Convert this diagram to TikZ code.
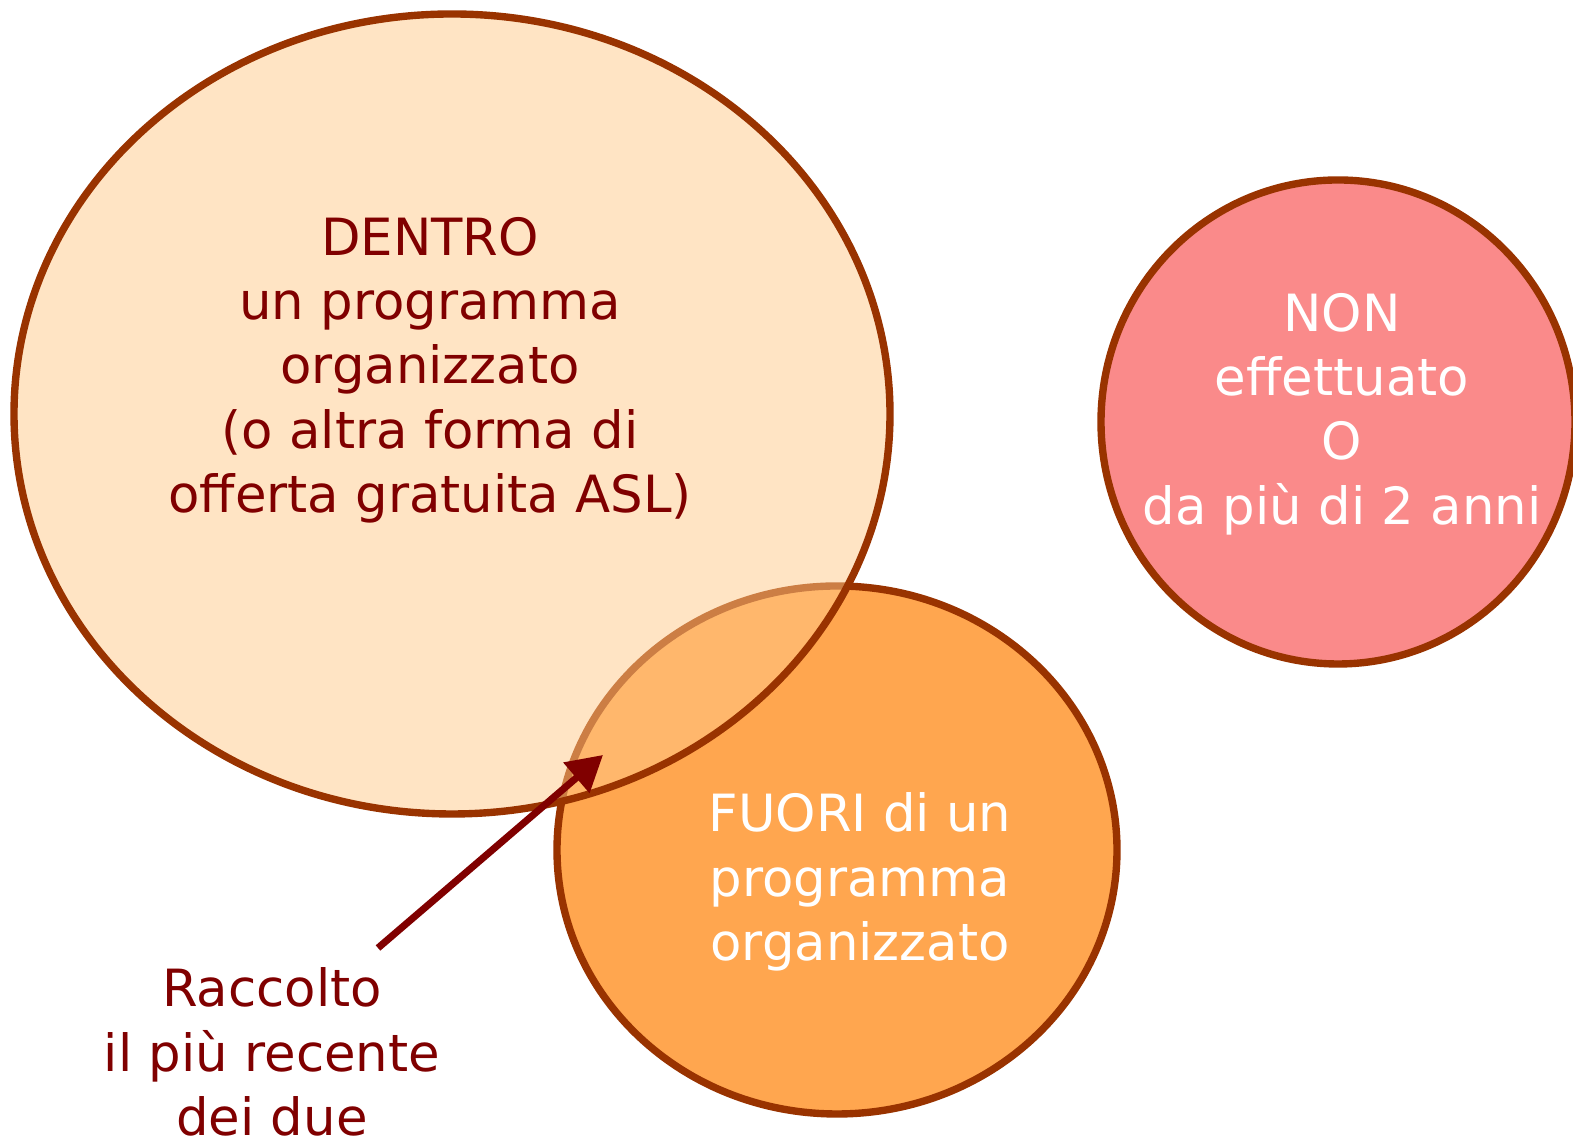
\documentclass[tikz,border=0pt]{standalone}
\usepackage{fontspec}
\setmainfont{DejaVu Sans}
\usepackage{xcolor}
\usetikzlibrary{arrows.meta}
\definecolor{vennBorder}{RGB}{153, 51, 0}
\definecolor{vennPeach}{RGB}{255, 201, 137}
\definecolor{vennOrange}{RGB}{255, 166, 79}
\definecolor{vennPink}{RGB}{250, 138, 138}
\definecolor{vennText}{RGB}{128, 0, 0}

\begin{document}
\begin{tikzpicture}[
  every node/.style={align=center, font=\fontsize{14.6}{18.3}\selectfont},
  ring/.style={draw=vennBorder, line width=2.1pt}
]
\useasboundingbox (0,0) rectangle (15.73,11.44);

% Circles
\filldraw[ring, fill=vennOrange] (8.37,2.94) ellipse (2.80 and 2.64);
\filldraw[ring, fill=vennPeach, fill opacity=0.5] (4.52,7.30) ellipse (4.38 and 4.00);
\filldraw[ring, fill=vennPink] (13.38,7.22) ellipse (2.37 and 2.42);

% Labels
\node[text=vennText] (dentro) at (4.30,7.74) {DENTRO\\un programma\\organizzato\\(o altra forma di\\offerta gratuita ASL)};
\node[white] (fuori) at (8.60,2.62) {FUORI di un\\programma\\organizzato};
\node[white] (non) at (13.42,7.30) {NON\\effettuato\\O\\da più di 2 anni};
\node[text=vennText] (raccolto) at (2.72,0.92) {Raccolto\\il più recente\\dei due};

% Arrow
\coordinate (tail) at (3.78,1.96);
\coordinate (tip) at (6.03,3.89);
\draw[vennText, line width=2pt, -{Triangle[length=10pt, width=11pt]}] (tail) -- (tip);
\end{tikzpicture}
\end{document}
